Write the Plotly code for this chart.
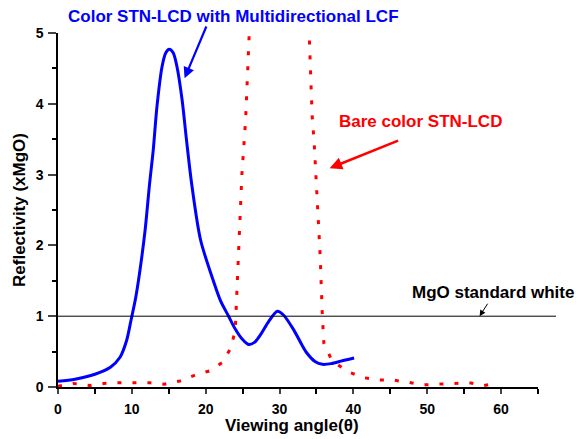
import plotly.graph_objects as go

# Data
lcf_angle = [0, 2.3, 5.0, 7.1, 8.4, 9.3, 9.9, 10.5, 11.1, 11.8, 12.4, 12.9, 13.4, 14.1, 14.6, 15.07,
             15.6, 16.1, 16.8, 17.4, 18.1, 19.3, 21.1, 22.0, 23.1, 24.0, 25.0, 25.8, 26.6,
             27.5, 28.5, 29.7, 30.5, 31.9, 33.0, 33.7, 34.8, 35.8, 37.0, 38.5, 40.1]
lcf_refl = [0.08, 0.11, 0.18, 0.28, 0.42, 0.66, 0.95, 1.25, 1.65, 2.22, 2.87, 3.35, 3.96, 4.53, 4.72,
            4.77, 4.72, 4.53, 4.06, 3.49, 2.87, 2.08, 1.48, 1.22, 1.00, 0.82, 0.67, 0.60, 0.63,
            0.75, 0.92, 1.07, 1.02, 0.81, 0.60, 0.48, 0.36, 0.32, 0.33, 0.37, 0.41]

bare_angle = [0, 2.1, 4.3, 6.2, 8.3, 10.4, 12.4, 14.4, 16.5, 18.6, 20.6, 22.3, 23.4, 24.0, 24.2, 24.6,
              24.9, 25.4, 25.8, 26.5, 30.0, 33.5, 34.1, 34.4, 34.7, 35.1, 35.5, 35.8, 36.0, 37.1,
              39.4, 41.5, 43.5, 45.3, 47.3, 49.6, 51.4, 53.6, 55.7, 57.7, 59.7]
bare_refl = [0.01, 0.05, 0.02, 0.05, 0.06, 0.06, 0.06, 0.04, 0.085, 0.17, 0.23, 0.35, 0.55, 0.80, 1.30,
             2.33, 3.00, 3.76, 4.74, 6.5, 9.0, 6.5, 4.74, 3.86, 3.43, 2.71, 1.86, 1.00, 0.62, 0.37,
             0.21, 0.13, 0.10, 0.10, 0.07, 0.03, 0.04, 0.05, 0.06, 0.02, 0.06]

mgo_level = 1.0

x_ticks = [0, 10, 20, 30, 40, 50, 60]
y_ticks = [0, 1, 2, 3, 4, 5]

FONT = "Liberation Sans, Arial, sans-serif"

fig = go.Figure()
fig.add_trace(go.Scatter(x=bare_angle, y=bare_refl, mode="lines",
                         line=dict(color="#ff0000", width=3, dash="4px,11px"),
                         showlegend=False))
fig.add_trace(go.Scatter(x=lcf_angle, y=lcf_refl, mode="lines",
                         line=dict(color="#0000ff", width=3, shape="spline", smoothing=0.8),
                         showlegend=False))

# MgO standard white reference line
fig.add_shape(type="line", xref="paper", yref="y", x0=0, x1=1.0375, y0=mgo_level, y1=mgo_level,
              line=dict(color="black", width=1))

# Text labels (paper coordinates so they are not hidden outside the axis range)
annos = [
    dict(text="<b>Color STN-LCD with Multidirectional LCF</b>", x=0.365, y=1.048, color="#0000ff"),
    dict(text="<b>Bare color STN-LCD</b>", x=0.756, y=0.751, color="#ff0000"),
    dict(text="<b>MgO standard white</b>", x=0.907, y=0.268, color="black"),
    dict(text="<b>Viewing angle(θ)</b>", x=0.487, y=-0.108, color="black"),
]
for a in annos:
    fig.add_annotation(text=a["text"], x=a["x"], y=a["y"], xref="paper", yref="paper", showarrow=False,
                       font=dict(family=FONT, size=17, color=a["color"]),
                       xanchor="center", yanchor="middle")

arrows = [
    dict(x=17.14, y=4.36, ax=22.4, ay=-53.3, color="#0000ff", w=2.2, size=1.0),
    dict(x=36.78, y=3.09, ax=70, ay=-28.3, color="#ff0000", w=2.5, size=1.0),
    dict(x=57.09, y=1.0, ax=9, ay=-14, color="black", w=1, size=1.2),
]
for a in arrows:
    fig.add_annotation(text="", x=a["x"], y=a["y"], xref="x", yref="y", ax=a["ax"], ay=a["ay"],
                       showarrow=True, arrowhead=2, arrowsize=a["size"], arrowwidth=a["w"],
                       arrowcolor=a["color"], standoff=0, startstandoff=0)

tickfont = dict(family=FONT, size=14, color="black")
fig.update_layout(
    width=577, height=439,
    margin=dict(l=58, r=39, t=33, b=52),
    paper_bgcolor="white", plot_bgcolor="white",
    font=dict(family=FONT, color="black"),
    xaxis=dict(range=[0, 65], tickvals=x_ticks, ticktext=[f"<b>{v}</b>" for v in x_ticks],
               ticks="outside", ticklen=5, tickwidth=1.5,
               showline=True, linecolor="black", linewidth=1.5, showgrid=False, zeroline=False,
               tickfont=tickfont, ticklabelstandoff=3,
               minor=dict(dtick=5, ticks="outside", ticklen=5, tickwidth=1.5, tickcolor="black")),
    yaxis=dict(range=[0, 5], tickvals=y_ticks, ticktext=[f"<b>{v}</b>" for v in y_ticks],
               ticks="outside", ticklen=8, tickwidth=1.5,
               showline=True, linecolor="black", linewidth=1.5, showgrid=False, zeroline=False,
               tickfont=tickfont, ticklabelstandoff=2,
               minor=dict(dtick=0.5, ticks="outside", ticklen=4, tickwidth=1.5, tickcolor="black"),
               title=dict(text="<b>Reflectivity (xMgO)</b>", font=dict(family=FONT, size=17), standoff=6)),
)

fig.write_html("out.html")
